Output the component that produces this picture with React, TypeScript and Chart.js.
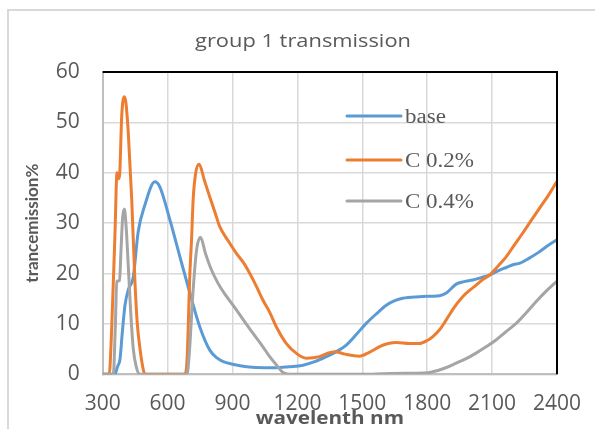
import React, { useEffect, useRef } from "react";
import { Chart, registerables } from "chart.js";

Chart.register(...registerables);

const TITLE = "group 1 transmission";
const X_TITLE = "wavelenth nm";
const Y_TITLE = "trancemission%";
const SERIES_NAMES = ["base", "C 0.2%", "C 0.4%"];
const SERIES_COLORS = ["#5B9BD5", "#ED7D31", "#A5A5A5"];

const baseWl = [300, 350, 357, 368, 380, 390, 403, 420, 441, 464, 495, 541, 564, 611, 634, 657, 703, 749, 795, 830, 857, 900, 965, 1050, 1103, 1160, 1226, 1280, 1334, 1380, 1426, 1470, 1518, 1565, 1611, 1650, 1687, 1764, 1820, 1857, 1890, 1934, 1970, 2011, 2050, 2088, 2130, 2165, 2200, 2226, 2270, 2318, 2360, 2400];
const baseT = [0, 0, 0, 1.5, 3, 8, 13.7, 17, 19.2, 28.3, 33.6, 38.2, 37.2, 30.6, 27, 23.3, 16.1, 9.4, 4.8, 3.2, 2.5, 2.0, 1.5, 1.3, 1.3, 1.5, 1.8, 2.5, 3.5, 4.5, 5.8, 7.8, 10.1, 12, 13.7, 14.6, 15.1, 15.4, 15.5, 15.6, 16.2, 17.9, 18.4, 18.7, 19.2, 19.7, 20.6, 21.2, 21.8, 22, 23, 24.3, 25.6, 26.7];

const c02Wl = [300, 330, 341, 357, 366, 372, 378, 388, 400, 407, 418, 434, 449, 460, 472, 485, 495, 550, 680, 690, 703, 711, 718, 730, 746, 770, 795, 820, 841, 880, 918, 950, 980, 1010, 1041, 1072, 1103, 1149, 1200, 1241, 1303, 1340, 1372, 1420, 1487, 1530, 1580, 1620, 1657, 1720, 1764, 1800, 1826, 1860, 1888, 1925, 1964, 2000, 2026, 2060, 2088, 2130, 2165, 2200, 2241, 2280, 2318, 2360, 2400];
const c02T = [0, 0, 8.5, 28.3, 40, 38.8, 39.5, 51.4, 55.1, 54, 48.1, 34.9, 18.4, 10, 5.2, 1.5, 0, 0, 0, 3, 20, 27, 34.6, 40, 41.7, 38.5, 35.2, 32, 29.3, 26.5, 24, 22.2, 20, 17.5, 14.7, 12.3, 9.4, 6.1, 4, 3.2, 3.5, 4.2, 4.5, 4, 3.6, 4.3, 5.5, 6.1, 6.3, 6.1, 6.1, 6.7, 7.5, 9, 10.8, 13.3, 15.4, 16.8, 17.7, 18.9, 19.7, 21.6, 23.3, 25.5, 28, 30.5, 32.9, 35.5, 38.3];

const c04Wl = [300, 349, 358, 365, 378, 384, 392, 400, 408, 418, 430, 441, 455, 472, 550, 690, 700, 718, 734, 752, 775, 800, 834, 870, 918, 955, 995, 1035, 1072, 1110, 1132, 1160, 1500, 1600, 1700, 1800, 1826, 1880, 1934, 1980, 2026, 2070, 2118, 2160, 2211, 2260, 2303, 2350, 2400];
const c04T = [0, 0, 9, 18.4, 18.6, 24, 31, 32.8, 29.5, 21.7, 12, 5.2, 1.5, 0, 0, 0, 4, 16.7, 24.7, 27.2, 24, 21, 18, 15.6, 12.8, 10.5, 8.1, 5.8, 3.5, 1.5, 0.4, 0, 0, 0.1, 0.2, 0.3, 0.5, 1.2, 2.2, 3.1, 4.2, 5.4, 6.8, 8.3, 10.1, 12.3, 14.4, 16.5, 18.5];

const X_MIN = 300;
const X_MAX = 2400;
const X_STEP = 300;
const Y_MIN = 0;
const Y_MAX = 60;
const Y_STEP = 10;

const TEXT_COLOR = "#595959";

function toPoints(xs: number[], ys: number[]) {
  return xs.map((x, i) => ({ x, y: ys[i] }));
}

function stretchedText(
  ctx: CanvasRenderingContext2D,
  text: string,
  x: number,
  y: number,
  sx: number
) {
  ctx.save();
  ctx.translate(x, y);
  ctx.scale(sx, 1);
  ctx.fillText(text, 0, 0);
  ctx.restore();
}

const decorPlugin = {
  id: "decor",
  afterDraw(chart: any) {
    const ctx = chart.ctx as CanvasRenderingContext2D;
    const { left, right, top, bottom } = chart.chartArea;
    ctx.save();
    // black top and right border
    ctx.strokeStyle = "#000000";
    ctx.lineWidth = 2;
    ctx.beginPath();
    ctx.moveTo(left, top);
    ctx.lineTo(right, top);
    ctx.lineTo(right, bottom);
    ctx.stroke();

    // title
    ctx.fillStyle = TEXT_COLOR;
    ctx.textAlign = "center";
    ctx.textBaseline = "middle";
    ctx.font = "19px 'Open Sans'";
    stretchedText(ctx, TITLE, 303, 42, 1.15);

    // x title
    ctx.font = "bold 18px 'Open Sans'";
    stretchedText(ctx, X_TITLE, (left + right) / 2, 419, 1.15);

    // y title
    ctx.save();
    ctx.font = "bold 17px Lato";
    ctx.translate(33, (top + bottom) / 2);
    ctx.rotate(-Math.PI / 2);
    ctx.fillText(Y_TITLE, 0, 0);
    ctx.restore();

    // legend
    const legendYs = [116, 160, 201];
    ctx.font = "20px 'Liberation Serif'";
    ctx.textAlign = "left";
    ctx.textBaseline = "alphabetic";
    SERIES_NAMES.forEach((name, i) => {
      const y = legendYs[i];
      ctx.strokeStyle = SERIES_COLORS[i];
      ctx.lineWidth = 3;
      ctx.lineCap = "round";
      ctx.beginPath();
      ctx.moveTo(347, y);
      ctx.lineTo(401, y);
      ctx.stroke();
      ctx.fillStyle = TEXT_COLOR;
      stretchedText(ctx, name, 405, y + 7, 1.15);
    });
    ctx.restore();
  },
};

export default function App() {
  const ref = useRef<HTMLCanvasElement | null>(null);
  useEffect(() => {
    if (!ref.current) return;
    const series = [
      toPoints(baseWl, baseT),
      toPoints(c02Wl, c02T),
      toPoints(c04Wl, c04T),
    ];
    const chart = new Chart(ref.current, {
      type: "line",
      data: {
        datasets: series.map((pts, i) => ({
          label: SERIES_NAMES[i],
          data: pts,
          borderColor: SERIES_COLORS[i],
          backgroundColor: SERIES_COLORS[i],
          borderWidth: 3,
          pointRadius: 0,
          cubicInterpolationMode: "monotone" as const,
          tension: 0.4,
          fill: false,
          order: 2 - i,
        })),
      },
      options: {
        animation: false,
        responsive: false,
        devicePixelRatio: 1,
        layout: { padding: { top: 72, right: 38, left: 0, bottom: 0 } },
        plugins: {
          legend: { display: false },
          title: { display: false },
          tooltip: { enabled: false },
        },
        scales: {
          x: {
            type: "linear",
            min: X_MIN,
            max: X_MAX,
            ticks: {
              stepSize: X_STEP,
              color: TEXT_COLOR,
              font: { family: "Open Sans", size: 21 },
              padding: 17,
              maxRotation: 0,
              autoSkip: false,
              callback: (v: any) => String(v),
            },
            grid: { color: "#d9d9d9", lineWidth: 1.5, drawTicks: false },
            border: { color: "#bfbfbf", width: 2 },
            afterFit: (s: any) => {
              s.height = 54.7;
              s.paddingLeft = 0;
              s.paddingRight = 0;
            },
          },
          y: {
            min: Y_MIN,
            max: Y_MAX,
            ticks: {
              stepSize: Y_STEP,
              color: TEXT_COLOR,
              font: { family: "Open Sans", size: 21 },
              padding: 23,
              callback: (v: any) => String(v),
            },
            grid: { color: "#d9d9d9", lineWidth: 1.5, drawTicks: false },
            border: { color: "#bfbfbf", width: 2 },
            afterFit: (s: any) => {
              s.width = 102.7;
              s.paddingTop = 0;
              s.paddingBottom = 0;
            },
          },
        },
      },
      plugins: [decorPlugin],
    });
    return () => chart.destroy();
  }, []);

  return (
    <div
      style={{
        position: "fixed",
        left: 0,
        top: 0,
        width: 595,
        height: 429,
        overflow: "hidden",
        background: "#ffffff",
      }}
    >
      <div
        style={{
          position: "absolute",
          left: 7,
          top: 9,
          width: 700,
          height: 600,
          border: "2px solid #d9d9d9",
        }}
      />
      <canvas
        ref={ref}
        width={595}
        height={429}
        style={{ position: "absolute", left: 0, top: 0, width: 595, height: 429 }}
      />
    </div>
  );
}
